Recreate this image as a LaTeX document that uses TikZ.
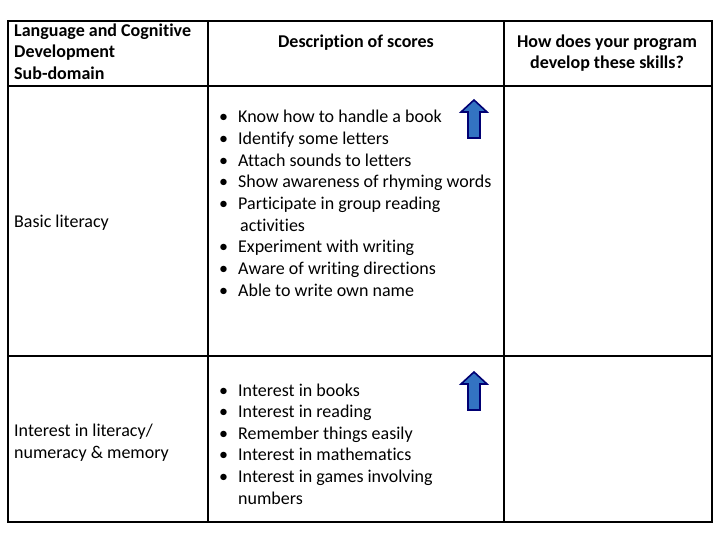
\documentclass[tikz,border=0pt]{standalone}
\usepackage{fontspec}
\setmainfont[RawFeature={-liga;-clig}]{Carlito}
\begin{document}
\begin{tikzpicture}[x=1pt,y=-1pt,
  txt/.style={anchor=base west,inner sep=0pt,font=\fontsize{18}{21.6}\selectfont},
  bld/.style={txt,font=\fontsize{18}{21.6}\selectfont\bfseries},
  bul/.style={txt,font=\fontsize{18}{21.6}\selectfont},
  up/.style={draw=blue!45!black,fill=blue!55!cyan!70!black!80,line width=1.6pt,line join=miter}]
\useasboundingbox (0,0) rectangle (720,540);
\draw[line width=2pt] (8,21) rectangle (712,522);
\draw[line width=2pt] (208,21) -- (208,522) (504,21) -- (504,522)
  (8,86) -- (712,86) (8,356) -- (712,356);
\node[bld] (h1) at (14,37) {Language and Cognitive};
\node[bld] (h2) at (14,58) {Development};
\node[bld] (h3) at (14,80) {Sub-domain};
\node[bld,anchor=base] (h4) at (356,48) {Description of scores};
\node[bld,anchor=base] (h5) at (607,48) {How does your program};
\node[bld,anchor=base] (h6) at (607,69) {develop these skills?};
\node[txt] (r1) at (14,227) {Basic literacy};
\node[txt] (r2) at (14,436) {Interest in literacy/};
\node[txt] (r3) at (14,458) {numeracy \& memory};
\foreach \t [count=\i] in {Know how to handle a book,Identify some letters,Attach sounds to letters,Show awareness of rhyming words,Participate in group reading}
  {\node[txt] (b\i) at (238,101.4+21.6*\i) {\t};
   \node[bul] (bb\i) at (219,101.4+21.6*\i) {\textbullet};}
\node[txt] (b6) at (240,231) {activities};
\foreach \t [count=\i] in {Experiment with writing,Aware of writing directions,Able to write own name}
  {\node[txt] (c\i) at (238,231.2+21.6*\i) {\t};
   \node[bul] (cb\i) at (219,231.2+21.6*\i) {\textbullet};}
\foreach \t [count=\i] in {Interest in books,Interest in reading,Remember things easily,Interest in mathematics,Interest in games involving}
  {\node[txt] (d\i) at (238,374.5+21.6*\i) {\t};
   \node[bul] (db\i) at (219,374.5+21.6*\i) {\textbullet};}
\node[txt] (d6) at (238,504) {numbers};
\foreach \y [count=\k] in {100,372}
  \draw[up] (474,\y) -- (487,\y+12) -- (480,\y+12) -- (480,\y+38) -- (468,\y+38) -- (468,\y+12) -- (461,\y+12) -- cycle;
\end{tikzpicture}
\end{document}
